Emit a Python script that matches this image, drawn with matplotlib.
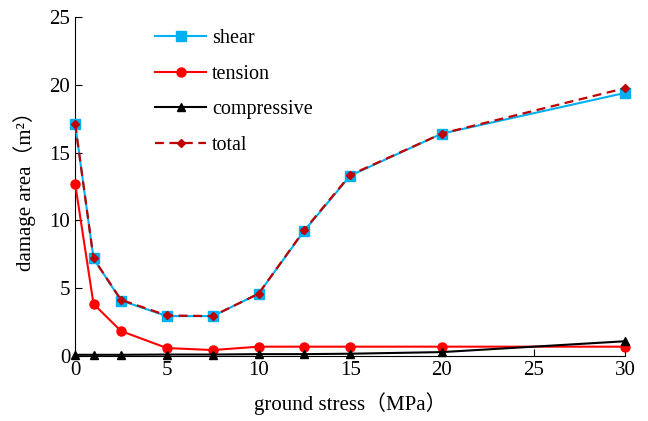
import numpy as np
import matplotlib.pyplot as plt

plt.rcParams['font.family'] = ['Liberation Serif', 'Noto Sans CJK SC']

# ground stress (MPa)
stress = [0, 1, 2.5, 5, 7.5, 10, 12.5, 15, 20, 30]
# damage area (m2)
shear = [17.1, 7.2, 4.1, 2.95, 2.95, 4.6, 9.25, 13.3, 16.4, 19.4]
tension = [12.7, 3.85, 1.85, 0.6, 0.45, 0.7, 0.7, 0.7, 0.7, 0.7]
compressive = [0.1, 0.1, 0.1, 0.12, 0.12, 0.15, 0.15, 0.18, 0.3, 1.1]
total = [17.1, 7.2, 4.15, 3.0, 2.95, 4.6, 9.3, 13.35, 16.4, 19.75]

fig = plt.figure(figsize=(6.48, 4.21), dpi=100)
ax = fig.add_axes([0.116, 0.154, 0.849, 0.806])

ax.plot(stress, shear, '-s', color='#00B0F0', lw=1.5, ms=6.5, label='shear', zorder=3, clip_on=False)
ax.plot(stress, tension, '-o', color='#FF0000', lw=1.5, ms=6.5, label='tension', zorder=3, clip_on=False)
ax.plot(stress, compressive, '-^', color='black', lw=1.5, ms=5.5, label='compressive', zorder=3, clip_on=False)
ax.plot(stress, total, '--D', color='#C00000', lw=1.6, ms=4.5, dashes=(4, 2.5), label='total', zorder=4, clip_on=False)

ax.set_xlim(0, 30)
ax.set_ylim(0, 25)
ax.set_xticks(np.arange(0, 31, 5))
ax.set_yticks(np.arange(0, 26, 5))
ax.spines['top'].set_visible(False)
ax.spines['right'].set_visible(False)
ax.tick_params(direction='in', labelsize=15, length=5)

ax.set_xlabel('ground stress（MPa）', fontsize=15, labelpad=9)
ax.set_ylabel('damage area（m²）', fontsize=15, labelpad=10)

ax.legend(loc='upper left', bbox_to_anchor=(0.113, 1.018), frameon=False, fontsize=14.5,
          handlelength=2.5, labelspacing=0.82, handletextpad=0.3)

fig.savefig('out.png', dpi=100)
